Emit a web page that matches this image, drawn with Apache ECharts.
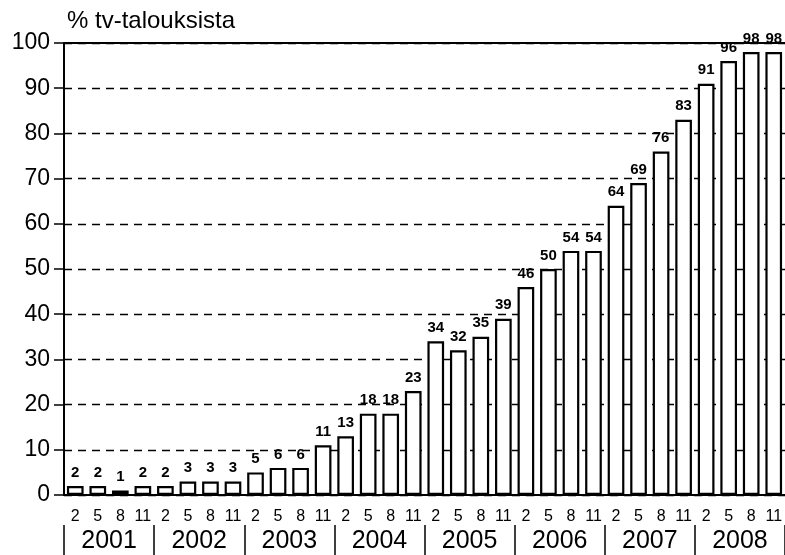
<!DOCTYPE html>
<html><head><meta charset="utf-8">
<script src="https://cdn.jsdelivr.net/npm/echarts@6/dist/echarts.min.js"></script>
<style>html,body{margin:0;padding:0;background:#fff}#c{width:785px;height:555px}</style>
</head><body><div id="c"></div>
<script>
const months = ['2','5','8','11','2','5','8','11','2','5','8','11','2','5','8','11','2','5','8','11','2','5','8','11','2','5','8','11','2','5','8','11'];
const years = ['2001','2002','2003','2004','2005','2006','2007','2008'];
const values = [2,2,1,2, 2,3,3,3, 5,6,6,11, 13,18,18,23, 34,32,35,39, 46,50,54,54, 64,69,76,83, 91,96,98,98];
const yTicks = [0,10,20,30,40,50,60,70,80,90,100];
const unitLabel = '% tv-talouksista';

const FONT = 'Liberation Sans, Arial, sans-serif';
const chart = echarts.init(document.getElementById('c'), null, {renderer:'canvas'});
chart.setOption({
  animation: false,
  backgroundColor: '#fff',
  title: {
    text: unitLabel, left: 62, top: 4,
    textStyle: {fontFamily: FONT, fontSize: 24, fontWeight: 'normal', color: '#000'}
  },
  grid: {left: 64, top: 43, bottom: 60, width: 726},
  xAxis: [{
    type: 'category', data: months, position: 'bottom',
    axisLine: {show: true, lineStyle: {color: '#000', width: 2}},
    axisTick: {show: false},
    axisLabel: {fontFamily: FONT, fontSize: 16, color: '#000', margin: 14, interval: 0}
  }, {
    type: 'category', data: years, position: 'bottom', offset: 30,
    axisLine: {show: false},
    axisTick: {show: true, inside: false, length: 30, lineStyle: {color: '#000', width: 1.5}},
    axisLabel: {fontFamily: FONT, fontSize: 25, color: '#000', margin: 4, interval: 0}
  }],
  yAxis: {
    type: 'value', min: 0, max: 100, interval: 10,
    axisLine: {show: true, lineStyle: {color: '#000', width: 2}},
    axisTick: {show: true, length: 10, lineStyle: {color: '#000', width: 1.5}},
    axisLabel: {fontFamily: FONT, fontSize: 23, color: '#000', margin: 14,
      formatter: v => yTicks.includes(v) ? String(v) : ''},
    splitLine: {show: true, lineStyle: {color: '#000', width: 1.4, type: [8, 6]}}
  },
  series: [{
    type: 'bar', data: values, xAxisIndex: 0,
    barCategoryGap: '26%',
    itemStyle: {color: '#fff', borderColor: '#000', borderWidth: 2.2},
    label: {show: true, position: 'top', distance: 6, fontFamily: FONT, fontSize: 15, fontWeight: 'bold', color: '#000'},
    markLine: {
      silent: true, symbol: 'none', label: {show: false},
      lineStyle: {color: '#000', width: 2, type: 'solid'},
      data: [{yAxis: 100}]
    }
  }]
});
</script></body></html>
